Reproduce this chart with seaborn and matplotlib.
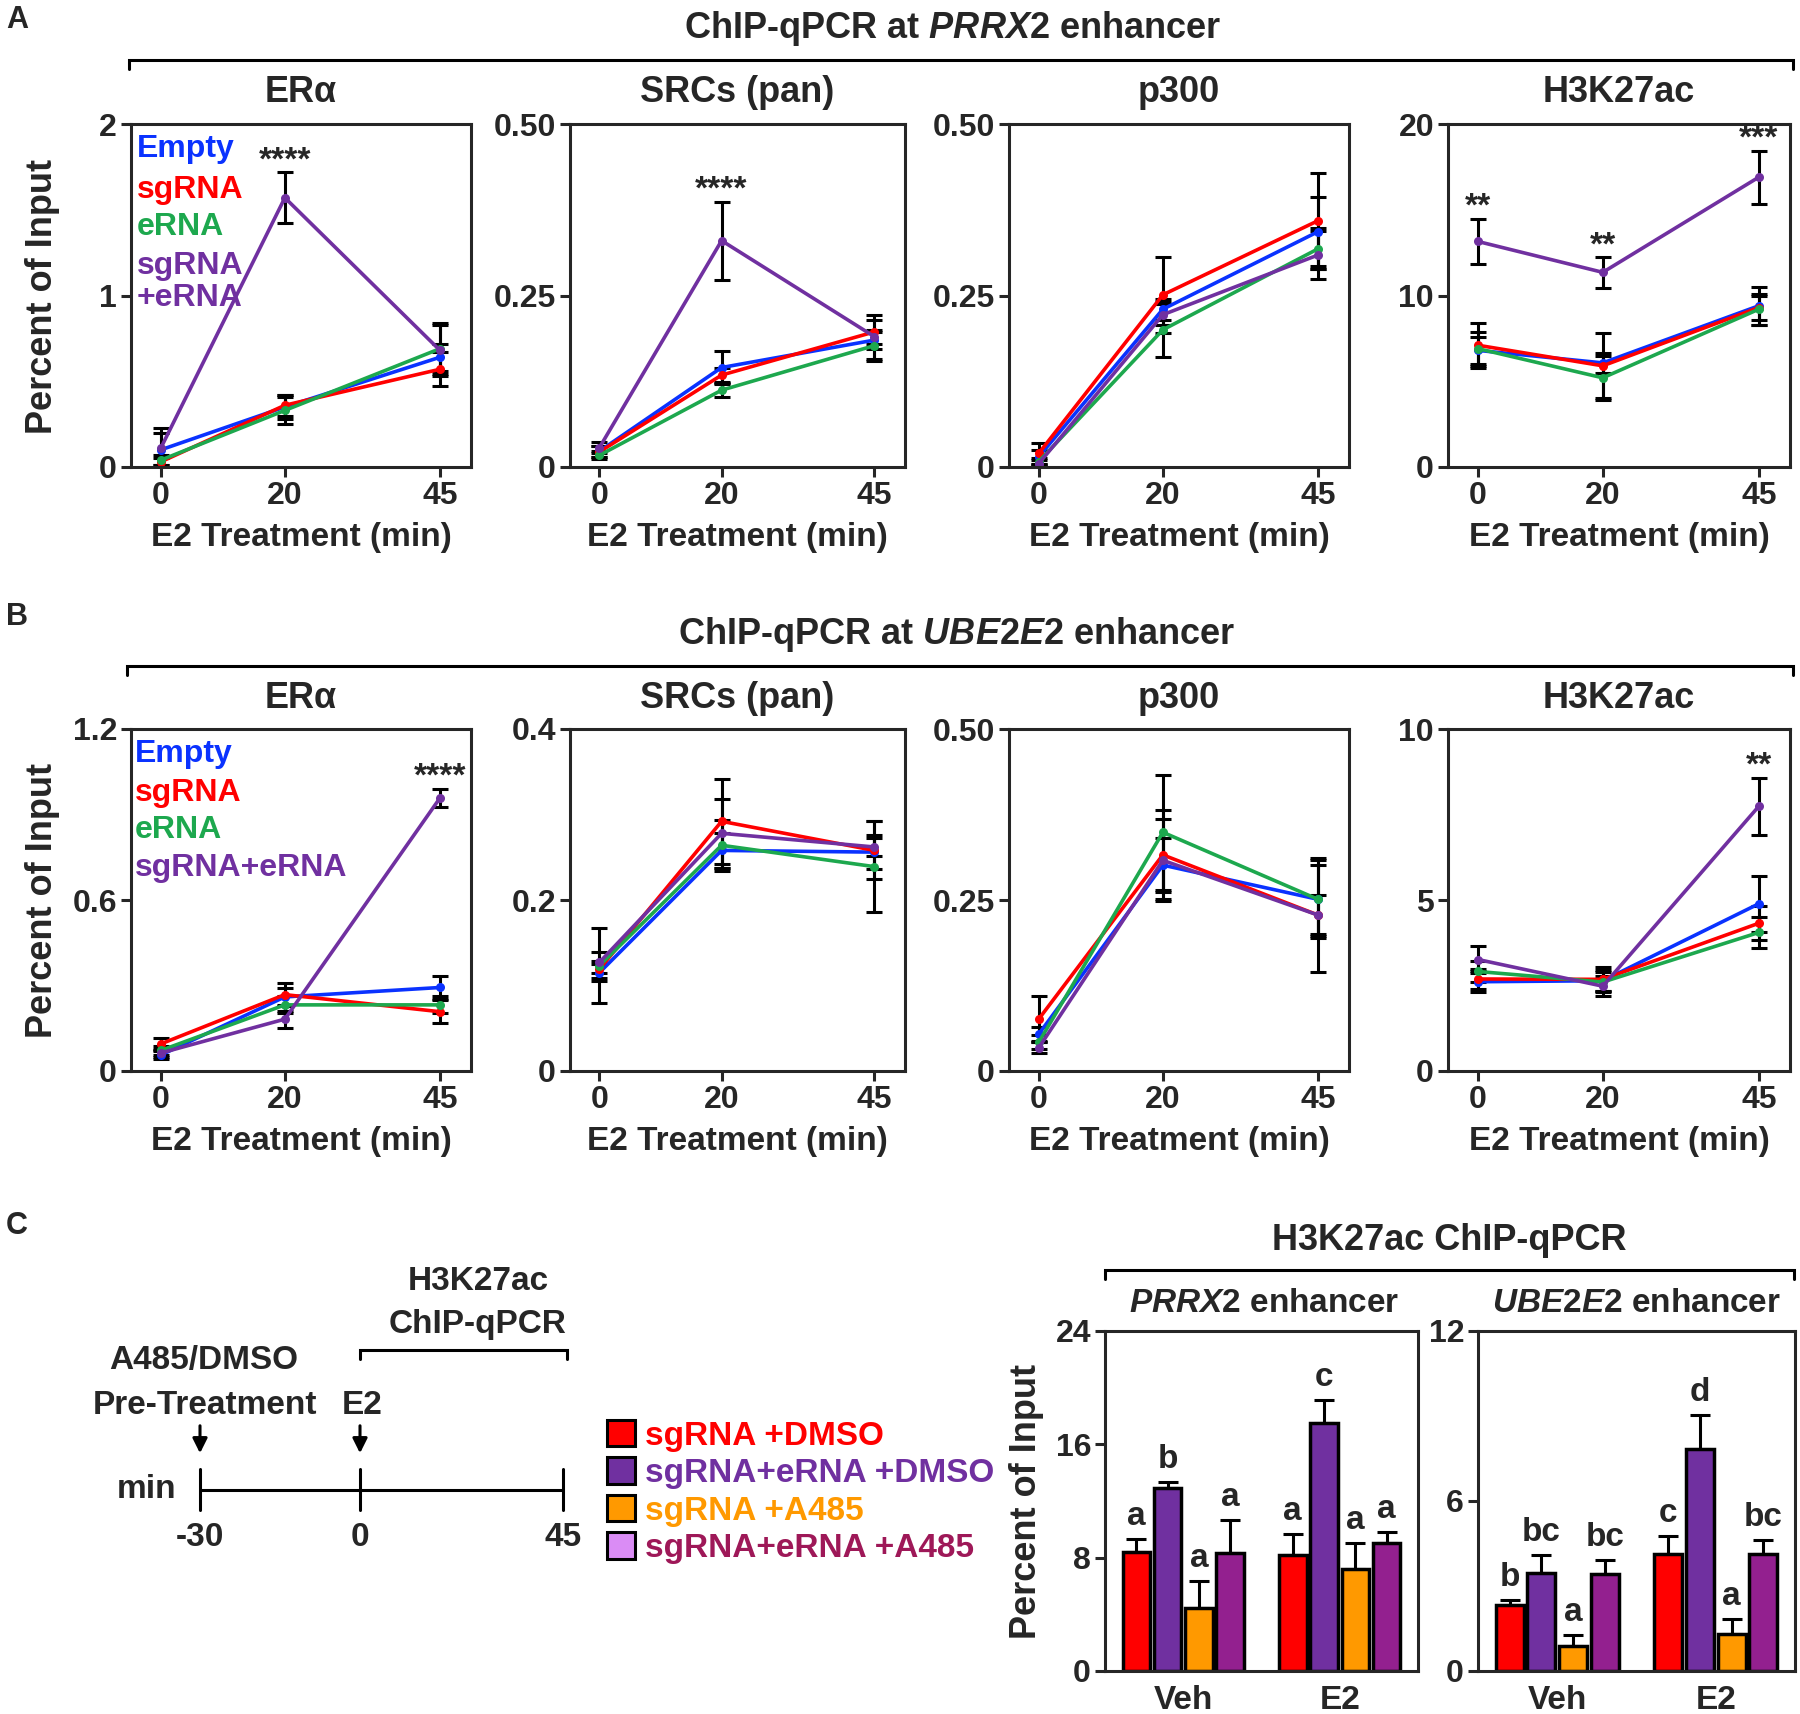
import matplotlib
matplotlib.use("Agg")
import matplotlib.pyplot as plt
from matplotlib.lines import Line2D
from matplotlib.patches import Patch, FancyArrowPatch
import seaborn as sns
import pandas as pd

# ---------------- data ----------------
times = [0, 20, 45]
groups = ["Empty", "sgRNA", "eRNA", "sgRNA+eRNA"]
line_colors = ["#0A32FF", "#FF0000", "#1DA84E", "#7030A0"]

# row A: PRRX2 enhancer
a_era_mean = {"Empty": [0.10, 0.35, 0.64], "sgRNA": [0.03, 0.36, 0.57], "eRNA": [0.04, 0.33, 0.69], "sgRNA+eRNA": [0.11, 1.57, 0.68]}
a_era_sem = {"Empty": [0.10, 0.07, 0.08], "sgRNA": [0.02, 0.06, 0.10], "eRNA": [0.03, 0.08, 0.15], "sgRNA+eRNA": [0.12, 0.15, 0.15]}
a_src_mean = {"Empty": [0.023, 0.145, 0.185], "sgRNA": [0.022, 0.134, 0.197], "eRNA": [0.017, 0.112, 0.177], "sgRNA+eRNA": [0.028, 0.33, 0.19]}
a_src_sem = {"Empty": [0.008, 0.024, 0.03], "sgRNA": [0.008, 0.01, 0.025], "eRNA": [0.006, 0.01, 0.02], "sgRNA+eRNA": [0.008, 0.057, 0.01]}
a_p300_mean = {"Empty": [0.015, 0.23, 0.343], "sgRNA": [0.02, 0.251, 0.359], "eRNA": [0.008, 0.20, 0.318], "sgRNA+eRNA": [0.005, 0.222, 0.309]}
a_p300_sem = {"Empty": [0.01, 0.015, 0.05], "sgRNA": [0.015, 0.055, 0.07], "eRNA": [0.005, 0.04, 0.03], "sgRNA+eRNA": [0.005, 0.015, 0.035]}
a_h3_mean = {"Empty": [6.8, 6.07, 9.4], "sgRNA": [7.1, 5.9, 9.3], "eRNA": [6.9, 5.2, 9.2], "sgRNA+eRNA": [13.15, 11.35, 16.9]}
a_h3_sem = {"Empty": [0.8, 0.6, 1.1], "sgRNA": [1.3, 1.9, 0.7], "eRNA": [1.0, 1.3, 0.9], "sgRNA+eRNA": [1.33, 0.9, 1.55]}

# row B: UBE2E2 enhancer
b_era_mean = {"Empty": [0.056, 0.26, 0.293], "sgRNA": [0.095, 0.268, 0.208], "eRNA": [0.072, 0.232, 0.232], "sgRNA+eRNA": [0.063, 0.182, 0.958]}
b_era_sem = {"Empty": [0.015, 0.03, 0.04], "sgRNA": [0.02, 0.04, 0.04], "eRNA": [0.015, 0.03, 0.03], "sgRNA+eRNA": [0.015, 0.03, 0.033]}
b_src_mean = {"Empty": [0.115, 0.258, 0.256], "sgRNA": [0.119, 0.292, 0.258], "eRNA": [0.123, 0.264, 0.239], "sgRNA+eRNA": [0.127, 0.278, 0.262]}
b_src_sem = {"Empty": [0.01, 0.02, 0.02], "sgRNA": [0.01, 0.05, 0.034], "eRNA": [0.044, 0.03, 0.053], "sgRNA+eRNA": [0.012, 0.04, 0.01]}
b_p300_mean = {"Empty": [0.054, 0.301, 0.251], "sgRNA": [0.076, 0.316, 0.228], "eRNA": [0.042, 0.349, 0.251], "sgRNA+eRNA": [0.034, 0.308, 0.228]}
b_p300_sem = {"Empty": [0.01, 0.04, 0.05], "sgRNA": [0.034, 0.065, 0.03], "eRNA": [0.01, 0.084, 0.057], "sgRNA+eRNA": [0.008, 0.06, 0.083]}
b_h3_mean = {"Empty": [2.61, 2.64, 4.89], "sgRNA": [2.69, 2.68, 4.32], "eRNA": [2.91, 2.6, 4.05], "sgRNA+eRNA": [3.26, 2.48, 7.74]}
b_h3_sem = {"Empty": [0.3, 0.3, 0.82], "sgRNA": [0.3, 0.35, 0.5], "eRNA": [0.3, 0.3, 0.45], "sgRNA+eRNA": [0.4, 0.3, 0.84]}

panel_titles = ["ERα", "SRCs (pan)", "p300", "H3K27ac"]
a_yticks = [[0, 1, 2], [0, 0.25, 0.5], [0, 0.25, 0.5], [0, 10, 20]]
a_ylabels = [["0", "1", "2"], ["0", "0.25", "0.50"], ["0", "0.25", "0.50"], ["0", "10", "20"]]
b_yticks = [[0, 0.6, 1.2], [0, 0.2, 0.4], [0, 0.25, 0.5], [0, 5, 10]]
b_ylabels = [["0", "0.6", "1.2"], ["0", "0.2", "0.4"], ["0", "0.25", "0.50"], ["0", "5", "10"]]
a_stars = [[(20, "****")], [(20, "****")], [], [(0, "**"), (20, "**"), (45, "***")]]
b_stars = [[(45, "****")], [], [], [(45, "**")]]

# panel C bars
bar_treat = ["Veh", "E2"]
bar_groups = ["sgRNA +DMSO", "sgRNA+eRNA +DMSO", "sgRNA +A485", "sgRNA+eRNA +A485"]
bar_colors = ["#FF0000", "#7030A0", "#FF9900", "#93208F"]
legend_swatch = ["#FF0000", "#7030A0", "#FF9900", "#DA8CF5"]
legend_text = ["#FF0000", "#7030A0", "#FF9900", "#9E1858"]
prrx2_mean = {"Veh": [8.4, 12.94, 4.47, 8.33], "E2": [8.16, 17.5, 7.18, 9.04]}
prrx2_sem = {"Veh": [0.94, 0.4, 1.88, 2.35], "E2": [1.53, 1.65, 1.88, 0.77]}
prrx2_letters = {"Veh": ["a", "b", "a", "a"], "E2": ["a", "c", "a", "a"]}
ube_mean = {"Veh": [2.32, 3.47, 0.88, 3.44], "E2": [4.12, 7.85, 1.32, 4.12]}
ube_sem = {"Veh": [0.2, 0.61, 0.38, 0.49], "E2": [0.63, 1.17, 0.53, 0.49]}
ube_letters = {"Veh": ["b", "bc", "a", "bc"], "E2": ["c", "d", "a", "bc"]}

timeline_ticks = ["-30", "0", "45"]

# ---------------- style ----------------
sns.set_style("ticks")
plt.rcParams["font.family"] = ["Liberation Sans", "DejaVu Sans"]
plt.rcParams["font.weight"] = "bold"
plt.rcParams["mathtext.fontset"] = "custom"
plt.rcParams["mathtext.it"] = "Liberation Sans:italic:bold"
plt.rcParams["mathtext.rm"] = "Liberation Sans:bold"
plt.rcParams["mathtext.bf"] = "Liberation Sans:bold"

W, H = 1800, 1714
fig = plt.figure(figsize=(W / 100, H / 100), dpi=100)
LW = 2.2


def fx(x):
    return x / W


def fy(y):
    return 1 - y / H


def add_ax(l, t, r, b):
    return fig.add_axes([l / W, 1 - b / H, (r - l) / W, (b - t) / H])


def bracket(x0, x1, y, drop=9):
    fig.add_artist(Line2D([fx(x0), fx(x0), fx(x1), fx(x1)], [fy(y + drop), fy(y), fy(y), fy(y + drop)],
                          color="black", lw=LW, solid_joinstyle="miter"))


def style_box(ax, ticksize=23):
    for s in ax.spines.values():
        s.set_visible(True)
        s.set_linewidth(LW)
    ax.tick_params(width=LW, length=7, labelsize=ticksize, pad=3)
    for lab in ax.get_xticklabels() + ax.get_yticklabels():
        lab.set_fontweight("bold")


def line_panel(ax, means, sems, yticks, ylabels, stars):
    rows = []
    for g in groups:
        for t, m in zip(times, means[g]):
            rows.append({"time": t, "group": g, "value": m})
    df = pd.DataFrame(rows)
    for g in groups:
        ax.errorbar(times, means[g], yerr=sems[g], fmt="none", ecolor="black",
                    elinewidth=LW, capsize=6, capthick=LW, zorder=1.5)
    sns.lineplot(data=df, x="time", y="value", hue="group", hue_order=groups,
                 palette=line_colors, marker="o", markersize=6.5, markeredgewidth=0,
                 linewidth=2.6, legend=False, ax=ax, zorder=2)
    top = means["sgRNA+eRNA"]
    topsem = sems["sgRNA+eRNA"]
    for t, s in stars:
        i = times.index(t)
        ax.annotate(s, (t, top[i] + topsem[i]), xytext=(0, -3), textcoords="offset points",
                    ha="center", va="bottom", fontsize=24, fontweight="bold")
    ax.set_xlim(-4.8, 50)
    ax.set_ylim(0, yticks[-1])
    ax.set_xticks(times)
    ax.set_xticklabels([str(t) for t in times])
    ax.set_yticks(yticks)
    ax.set_yticklabels(ylabels)
    ax.set_ylabel("")
    ax.set_xlabel("E2 Treatment (min)", fontsize=24, fontweight="bold", labelpad=8)
    style_box(ax)


col_x = [(131, 471), (570, 905), (1009, 1349), (1448, 1790)]

# ---------------- row A ----------------
a_means = [a_era_mean, a_src_mean, a_p300_mean, a_h3_mean]
a_sems = [a_era_sem, a_src_sem, a_p300_sem, a_h3_sem]
for i, (l, r) in enumerate(col_x):
    ax = add_ax(l, 124, r, 467)
    line_panel(ax, a_means[i], a_sems[i], a_yticks[i], a_ylabels[i], a_stars[i])
    fig.text(fx((l + r) / 2), fy(93), panel_titles[i], ha="center", va="center", fontsize=26, fontweight="bold")

fig.text(fx(17), fy(20), "A", ha="center", va="center", fontsize=22, fontweight="bold")
fig.text(fx(953), fy(28), r"ChIP-qPCR at $\mathit{PRRX2}$ enhancer", ha="center", va="center", fontsize=26, fontweight="bold")
bracket(129, 1793, 60)
fig.text(fx(43), fy(296), "Percent of Input", rotation=90, ha="center", va="center", fontsize=26, fontweight="bold")

a_leg = ["Empty", "sgRNA", "eRNA", "sgRNA\n+eRNA"]
a_leg_y = [149, 190, 227, 282]
for lab, c, y in zip(a_leg, line_colors, a_leg_y):
    fig.text(fx(137), fy(y), lab, ha="left", va="center", fontsize=23, fontweight="bold", color=c, linespacing=1.1)

# ---------------- row B ----------------
b_means = [b_era_mean, b_src_mean, b_p300_mean, b_h3_mean]
b_sems = [b_era_sem, b_src_sem, b_p300_sem, b_h3_sem]
for i, (l, r) in enumerate(col_x):
    ax = add_ax(l, 729, r, 1071)
    line_panel(ax, b_means[i], b_sems[i], b_yticks[i], b_ylabels[i], b_stars[i])
    fig.text(fx((l + r) / 2), fy(698), panel_titles[i], ha="center", va="center", fontsize=26, fontweight="bold")

fig.text(fx(17), fy(617), "B", ha="center", va="center", fontsize=22, fontweight="bold")
fig.text(fx(957), fy(635), r"ChIP-qPCR at $\mathit{UBE2E2}$ enhancer", ha="center", va="center", fontsize=26, fontweight="bold")
bracket(127, 1793, 666)
fig.text(fx(43), fy(900), "Percent of Input", rotation=90, ha="center", va="center", fontsize=26, fontweight="bold")

b_leg_y = [754, 793, 830, 868]
for lab, c, y in zip(groups, line_colors, b_leg_y):
    fig.text(fx(135), fy(y), lab, ha="left", va="center", fontsize=23, fontweight="bold", color=c)

# ---------------- row C: timeline ----------------
fig.text(fx(17), fy(1226), "C", ha="center", va="center", fontsize=22, fontweight="bold")
fig.text(fx(478), fy(1281), "H3K27ac", ha="center", va="center", fontsize=24, fontweight="bold")
fig.text(fx(478), fy(1325), "ChIP-qPCR", ha="center", va="center", fontsize=24, fontweight="bold")
bracket(360, 567, 1350)
fig.text(fx(204), fy(1360), "A485/DMSO", ha="center", va="center", fontsize=24, fontweight="bold")
fig.text(fx(205), fy(1405), "Pre-Treatment", ha="center", va="center", fontsize=24, fontweight="bold")
fig.text(fx(362), fy(1405), "E2", ha="center", va="center", fontsize=24, fontweight="bold")
for xa in [200, 360]:
    fig.add_artist(FancyArrowPatch((fx(xa), fy(1423)), (fx(xa), fy(1456)), arrowstyle="-|>",
                                   mutation_scale=22, color="black", lw=LW, transform=fig.transFigure))
tl_x = [200, 360, 563]
fig.add_artist(Line2D([fx(tl_x[0]), fx(tl_x[-1])], [fy(1490), fy(1490)], color="black", lw=LW))
for xt, lab in zip(tl_x, timeline_ticks):
    fig.add_artist(Line2D([fx(xt), fx(xt)], [fy(1469), fy(1510)], color="black", lw=LW))
    fig.text(fx(xt), fy(1538), lab, ha="center", va="center", fontsize=24, fontweight="bold")
fig.text(fx(176), fy(1490), "min", ha="right", va="center", fontsize=24, fontweight="bold")

handles = [Patch(facecolor=c, edgecolor="black", linewidth=LW) for c in legend_swatch]
fig.legend(handles, bar_groups, loc="center left", bbox_to_anchor=(fx(607), fy(1492)),
           frameon=False, borderpad=0, borderaxespad=0, handlelength=0.85, handleheight=0.85,
           handletextpad=0.3, labelspacing=0.17, labelcolor=legend_text,
           prop={"size": 24, "weight": "bold"})


# ---------------- row C: bars ----------------
def bar_panel(ax, means, sems, letters, yticks):
    rows = []
    errs = []
    labs = []
    for t in bar_treat:
        for g, m in zip(bar_groups, means[t]):
            rows.append({"treat": t, "group": g, "value": m})
        errs += sems[t]
        labs += letters[t]
    df = pd.DataFrame(rows)
    sns.barplot(data=df, x="treat", y="value", hue="group", order=bar_treat, hue_order=bar_groups,
                palette=bar_colors, saturation=1, width=0.8, gap=0.12, edgecolor="black", linewidth=2.5,
                errorbar=None, legend=False, ax=ax, zorder=2)
    bars = sorted([p for p in ax.patches if p.get_height() > 0], key=lambda p: p.get_x())
    for p, e, lab in zip(bars, errs, labs):
        xc = p.get_x() + p.get_width() / 2
        h = p.get_height()
        ax.errorbar([xc], [h], yerr=[[0], [e]], fmt="none", ecolor="black", elinewidth=LW,
                    capsize=7, capthick=LW, zorder=1.5)
        ax.annotate(lab, (xc, h + e), xytext=(0, 5), textcoords="offset points",
                    ha="center", va="bottom", fontsize=24, fontweight="bold")
    ax.set_xlim(-0.5, 1.5)
    ax.set_ylim(0, yticks[-1])
    ax.set_yticks(yticks)
    ax.set_yticklabels([str(v) for v in yticks])
    ax.set_xlabel("")
    ax.set_ylabel("")
    style_box(ax)
    ax.tick_params(axis="x", length=0, labelsize=24, pad=10)
    for lab in ax.get_xticklabels():
        lab.set_fontweight("bold")


ax_p = add_ax(1105, 1331, 1418, 1671)
bar_panel(ax_p, prrx2_mean, prrx2_sem, prrx2_letters, [0, 8, 16, 24])
ax_u = add_ax(1478, 1331, 1795, 1671)
bar_panel(ax_u, ube_mean, ube_sem, ube_letters, [0, 6, 12])

fig.text(fx(1449), fy(1240), "H3K27ac ChIP-qPCR", ha="center", va="center", fontsize=26, fontweight="bold")
bracket(1105, 1794, 1270)
fig.text(fx(1264), fy(1303), r"$\mathit{PRRX2}$ enhancer", ha="center", va="center", fontsize=24, fontweight="bold")
fig.text(fx(1636), fy(1303), r"$\mathit{UBE2E2}$ enhancer", ha="center", va="center", fontsize=24, fontweight="bold")
fig.text(fx(1026), fy(1501), "Percent of Input", rotation=90, ha="center", va="center", fontsize=26, fontweight="bold")

fig.savefig("out.png", dpi=100)
